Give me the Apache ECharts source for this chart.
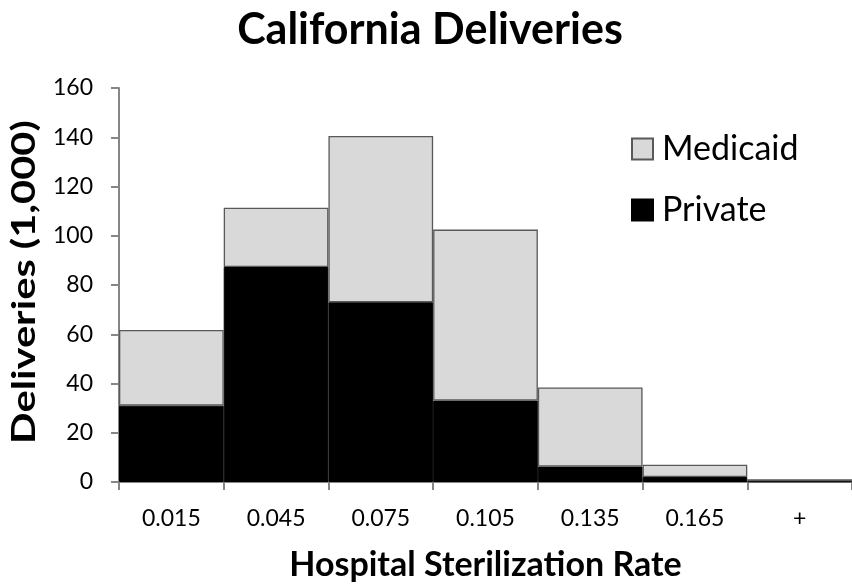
<!DOCTYPE html>
<html>
<head>
<meta charset="utf-8">
<script src="https://cdn.jsdelivr.net/npm/echarts@6/dist/echarts.min.js"></script>
<style>
  html, body { margin: 0; padding: 0; background: #fff; }
  #chart { width: 852px; height: 587px; }
</style>
</head>
<body>
<div id="chart"></div>
<script>
// Deliveries (thousands) by hospital sterilization rate bin
const categories = ['0.015', '0.045', '0.075', '0.105', '0.135', '0.165', '+'];
const privateValues = [31.0, 87.3, 73.0, 33.1, 6.3, 2.0, 0.3];
const medicaidTotals = [61.7, 111.4, 140.5, 102.5, 38.4, 7.0, 1.1];
const medicaidValues = medicaidTotals.map((t, i) => +(t - privateValues[i]).toFixed(1));
const yTicks = { min: 0, max: 160, interval: 20 };

const font = 'Lato, "Open Sans", sans-serif';
const axisGray = '#868686';
const chart = echarts.init(document.getElementById('chart'));
chart.setOption({
  animation: false,
  title: {
    text: 'California Deliveries',
    left: 425, top: 4, textAlign: 'center',
    textStyle: { fontFamily: font, fontWeight: 'bold', fontSize: 43, color: '#000' }
  },
  legend: {
    orient: 'vertical',
    left: 626, top: 127,
    icon: 'rect',
    itemWidth: 21, itemHeight: 21, itemGap: 27,
    data: ['Medicaid', 'Private'],
    textStyle: { fontFamily: font, fontSize: 34, color: '#000', padding: [0, 0, 0, 4] }
  },
  // vertical axis title, drawn as free text so it can be stretched along its length
  graphic: [{
    type: 'text',
    x: 25, y: 282,
    rotation: Math.PI / 2,
    scaleX: 1.3,
    style: {
      text: 'Deliveries (1,000)',
      font: 'bold 32px ' + font,
      fill: '#000',
      align: 'center',
      verticalAlign: 'middle'
    }
  }],
  grid: { left: 119, right: 0, top: 88, bottom: 104 },
  xAxis: {
    type: 'category',
    data: categories,
    name: 'Hospital Sterilization Rate',
    nameLocation: 'middle', nameGap: 66,
    nameTextStyle: { fontFamily: font, fontWeight: 'bold', fontSize: 34, color: '#000' },
    axisLine: { lineStyle: { color: axisGray, width: 2 } },
    axisTick: { show: true, length: 8, lineStyle: { color: axisGray, width: 2 } },
    axisLabel: { fontFamily: font, fontSize: 23, color: '#000', margin: 25 }
  },
  yAxis: {
    type: 'value',
    min: yTicks.min, max: yTicks.max, interval: yTicks.interval,
    axisLine: { show: true, lineStyle: { color: axisGray, width: 2 } },
    axisTick: { show: true, length: 8, lineStyle: { color: axisGray, width: 2 } },
    axisLabel: { fontFamily: font, fontSize: 23, color: '#000', margin: 26 },
    splitLine: { show: false }
  },
  series: [
    {
      name: 'Private', type: 'bar', stack: 'total',
      data: privateValues,
      barCategoryGap: 0,
      itemStyle: { color: '#000', borderColor: '#000', borderWidth: 1 }
    },
    {
      name: 'Medicaid', type: 'bar', stack: 'total',
      data: medicaidValues,
      barCategoryGap: 0,
      itemStyle: { color: '#d9d9d9', borderColor: '#595959', borderWidth: 1.3 }
    }
  ]
});
</script>
</body>
</html>
